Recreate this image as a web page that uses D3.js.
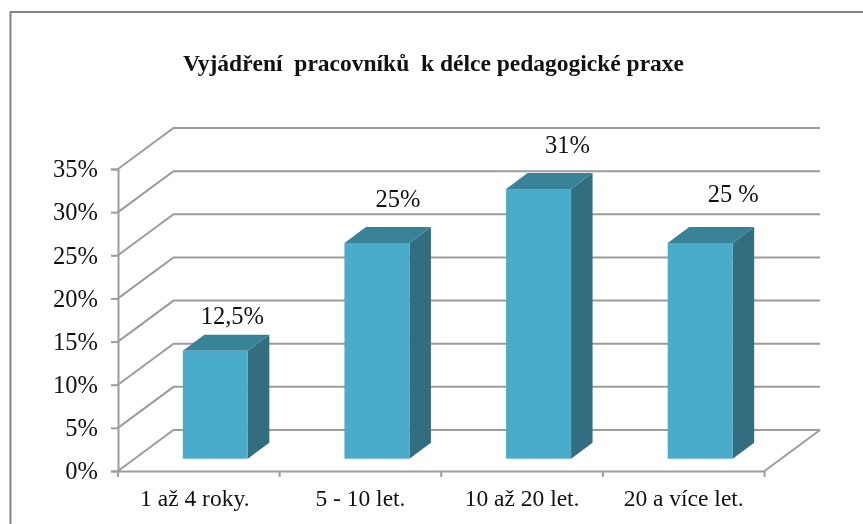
<!DOCTYPE html>
<html>
<head>
<meta charset="utf-8">
<script src="https://cdn.jsdelivr.net/npm/d3@7"></script>
<style>
  html, body { margin: 0; padding: 0; background: #fff; overflow: hidden; }
  svg { display: block; filter: blur(0.4px); }
  text { font-family: "Liberation Serif", serif; fill: #111; }
</style>
</head>
<body>
<div id="chart"></div>
<script>
const title = "Vyjádření  pracovníků  k délce pedagogické praxe";
const categories = ["1 až 4 roky.", "5 - 10 let.", "10 až 20 let.", "20 a více let."];
const values = [12.5, 25, 31.25, 25];
const valueLabels = ["12,5%", "25%", "31%", "25 %"];
const yTicks = [0, 5, 10, 15, 20, 25, 30, 35];

const width = 863, height = 524;
const depthX = 55.5, depthY = 41;     // shift from the front of the box to the back wall
const barDepthX = 21.5, barDepthY = 16;
const gridColor = "#9c9c9c";

let svg = d3.select("#chart")
    .append("svg")
    .attr("width", width)
    .attr("height", height);

let x = d3.scaleBand().domain(categories).range([118, 764.5]).paddingInner(0).paddingOuter(0);
let y = d3.scaleLinear().domain([0, 35]).range([471, 169]);

// outer frame, only top and left show in the crop
svg.append("path")
    .attr("d", "M10.5,524V12H863")
    .attr("fill", "none")
    .attr("stroke", "#858585")
    .attr("stroke-width", 2);

svg.append("text")
    .attr("x", 433.5)
    .attr("y", 71)
    .attr("text-anchor", "middle")
    .attr("font-size", 23.5)
    .attr("font-weight", "bold")
    .attr("xml:space", "preserve")
    .style("white-space", "pre")
    .text(title);

// side wall and back wall gridlines
let grid = svg.append("g")
    .attr("fill", "none")
    .attr("stroke", gridColor)
    .attr("stroke-width", 2);

grid.selectAll("path")
    .data(yTicks)
    .enter().append("path")
    .attr("d", function(d) {
        return "M" + x.range()[0] + "," + y(d)
            + "L" + (x.range()[0] + depthX) + "," + (y(d) - depthY)
            + "H" + (x.range()[1] + depthX);
    });

// floor edge on the right
grid.append("path")
    .attr("d", "M" + x.range()[1] + "," + y(0) + "L" + (x.range()[1] + depthX) + "," + (y(0) - depthY));

// axes
let yAxis = d3.axisLeft(y)
    .tickValues(yTicks)
    .tickSize(7)
    .tickPadding(13)
    .tickFormat(function(d) { return d + "%"; });

let xAxis = d3.axisBottom(x)
    .tickSize(0)
    .tickPadding(18.5);

let gy = svg.append("g").attr("transform", "translate(118,0)").call(yAxis);
let gx = svg.append("g").attr("transform", "translate(0,471)").call(xAxis);

// band edge ticks on the category axis
gx.selectAll(".edge")
    .data(categories.map(function(c) { return x(c); }).concat(x.range()[1]))
    .enter().append("line")
    .attr("class", "edge")
    .attr("x1", function(d) { return d; })
    .attr("x2", function(d) { return d; })
    .attr("y1", 0)
    .attr("y2", 6);

[gy, gx].forEach(function(g) {
    g.selectAll("path, line").attr("stroke", gridColor).attr("stroke-width", 2);
    g.selectAll("text").attr("fill", "#111").attr("font-family", "Liberation Serif");
});
gy.selectAll("text").attr("font-size", 24.5);
gx.selectAll("text").attr("font-size", 23.5);
gx.selectAll(".tick text").attr("dx", function(d, i) { return i === 0 ? -4 : 0; });

// bars sit part way into the floor
const barWidth = 65;
const barInsetX = 16.5, barInsetY = 12.3;
const baseY = y(0) - barInsetY;

function barLeft(c) {
    return x(c) + (x.bandwidth() - barWidth) / 2 + barInsetX;
}
function barTop(v) {
    return y(v) - barInsetY;
}

let bar = svg.selectAll(".bar")
    .data(categories.map(function(c, i) { return { cat: c, value: values[i], label: valueLabels[i] }; }))
    .enter().append("g")
    .attr("class", "bar");

bar.append("path")
    .attr("fill", "#326e7f")
    .attr("d", function(d) {
        let r = barLeft(d.cat) + barWidth, t = barTop(d.value);
        return "M" + r + "," + t + "l" + barDepthX + "," + (-barDepthY)
            + "V" + (baseY - barDepthY) + "L" + r + "," + baseY + "Z";
    });

bar.append("path")
    .attr("fill", "#398399")
    .attr("d", function(d) {
        let l = barLeft(d.cat), t = barTop(d.value);
        return "M" + l + "," + t + "l" + barDepthX + "," + (-barDepthY)
            + "h" + barWidth + "l" + (-barDepthX) + "," + barDepthY + "Z";
    });

bar.append("rect")
    .attr("fill", "#4aacc8")
    .attr("x", function(d) { return barLeft(d.cat); })
    .attr("y", function(d) { return barTop(d.value); })
    .attr("width", barWidth)
    .attr("height", function(d) { return baseY - barTop(d.value); });

// the value labels were placed by hand in the original, so each has its own nudge
const labelDx = [17, 21, 29, 33];
const labelDy = [-27, -36, -35.7, -41];

bar.append("text")
    .attr("text-anchor", "middle")
    .attr("font-size", 24.5)
    .attr("x", function(d, i) { return barLeft(d.cat) + barWidth / 2 + labelDx[i]; })
    .attr("y", function(d, i) { return barTop(d.value) + labelDy[i]; })
    .text(function(d) { return d.label; });
</script>
</body>
</html>
